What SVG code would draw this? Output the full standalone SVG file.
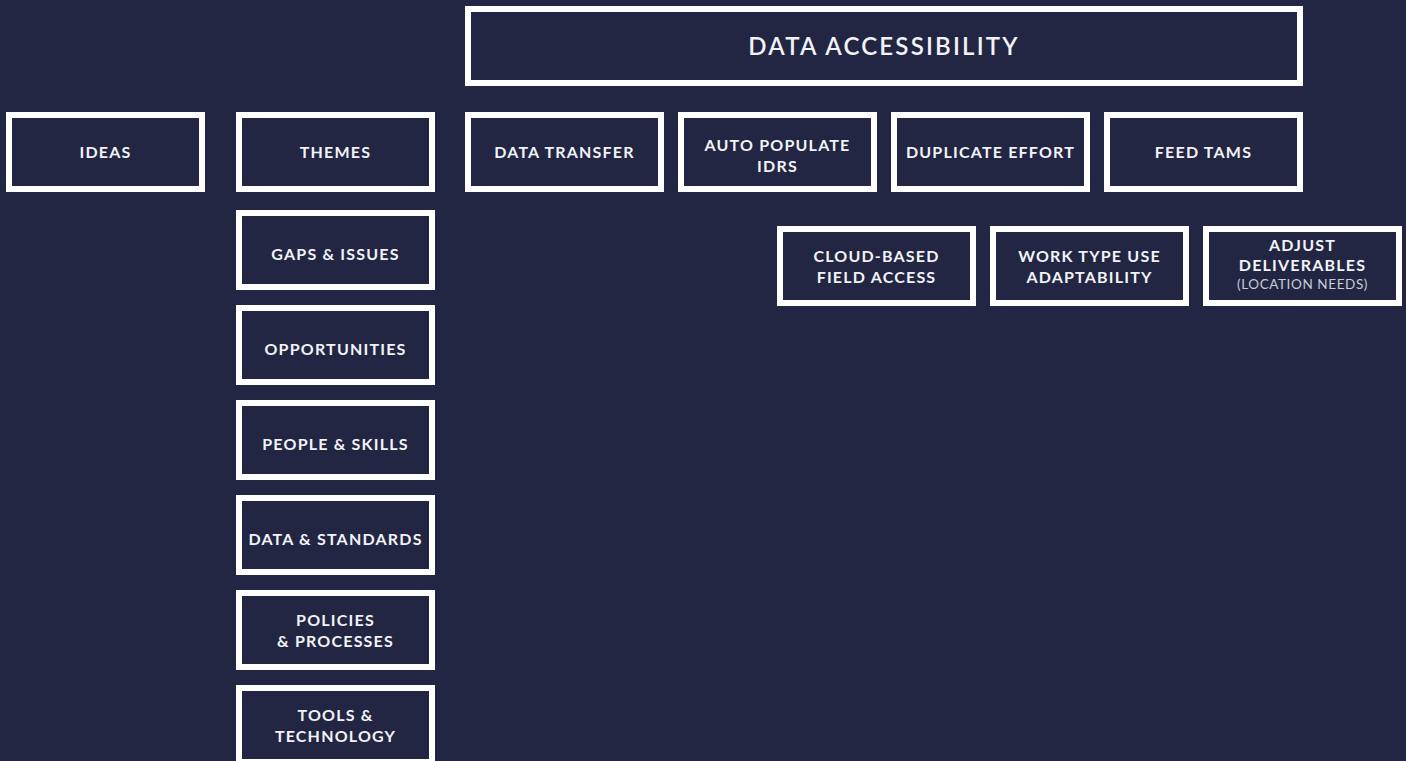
<svg xmlns="http://www.w3.org/2000/svg" width="1406" height="761" viewBox="0 0 1406 761">
<style>
.box{fill:#222643;stroke:#ffffff;stroke-width:6}
.t{fill:#f2f3f7;font-family:Lato,"Open Sans",sans-serif;font-weight:700;font-size:16px;letter-spacing:1.2px;text-anchor:middle}
.big{font-size:24px;letter-spacing:2.2px;font-weight:600}
.sm{fill:#c9cbd8;font-weight:400;font-size:13.5px;letter-spacing:0.6px}
</style>
<rect width="1406" height="761" fill="#222643"/>
<g id="connectors"></g>
<g id="data-accessibility"><rect class="box" x="468" y="9" width="832" height="74"/><text class="t big" x="884" y="55">DATA ACCESSIBILITY</text></g>
<g id="ideas"><rect class="box" x="9" y="115" width="193" height="74"/><text class="t" x="105.5" y="158">IDEAS</text></g>
<g id="themes"><rect class="box" x="239" y="115" width="193" height="74"/><text class="t" x="335.5" y="158">THEMES</text></g>
<g id="data-transfer"><rect class="box" x="468" y="115" width="193" height="74"/><text class="t" x="564.5" y="158">DATA TRANSFER</text></g>
<g id="auto-populate"><rect class="box" x="681" y="115" width="193" height="74"/><text class="t" x="777.5" y="151">AUTO POPULATE</text><text class="t" x="777.5" y="172">IDRS</text></g>
<g id="duplicate-effort"><rect class="box" x="894" y="115" width="193" height="74"/><text class="t" x="990.5" y="158">DUPLICATE EFFORT</text></g>
<g id="feed-tams"><rect class="box" x="1107" y="115" width="193" height="74"/><text class="t" x="1203.5" y="158">FEED TAMS</text></g>
<g id="cloud-based"><rect class="box" x="780" y="229" width="193" height="74"/><text class="t" x="876.5" y="262">CLOUD-BASED</text><text class="t" x="876.5" y="283">FIELD ACCESS</text></g>
<g id="work-type"><rect class="box" x="993" y="229" width="193" height="74"/><text class="t" x="1089.5" y="262">WORK TYPE USE</text><text class="t" x="1089.5" y="283">ADAPTABILITY</text></g>
<g id="adjust-deliverables"><rect class="box" x="1206" y="229" width="193" height="74"/><text class="t" x="1302.5" y="251">ADJUST</text><text class="t" x="1302.5" y="271">DELIVERABLES</text><text class="t sm" x="1302.5" y="289">(LOCATION NEEDS)</text></g>
<g id="gaps-issues"><rect class="box" x="239" y="213" width="193" height="74"/><text class="t" x="335.5" y="260">GAPS &amp; ISSUES</text></g>
<g id="opportunities"><rect class="box" x="239" y="308" width="193" height="74"/><text class="t" x="335.5" y="355">OPPORTUNITIES</text></g>
<g id="people-skills"><rect class="box" x="239" y="403" width="193" height="74"/><text class="t" x="335.5" y="450">PEOPLE &amp; SKILLS</text></g>
<g id="data-standards"><rect class="box" x="239" y="498" width="193" height="74"/><text class="t" x="335.5" y="545">DATA &amp; STANDARDS</text></g>
<g id="policies-processes"><rect class="box" x="239" y="593" width="193" height="74"/><text class="t" x="335.5" y="626">POLICIES</text><text class="t" x="335.5" y="647">&amp; PROCESSES</text></g>
<g id="tools-technology"><rect class="box" x="239" y="688" width="193" height="74"/><text class="t" x="335.5" y="721">TOOLS &amp;</text><text class="t" x="335.5" y="742">TECHNOLOGY</text></g>
</svg>
